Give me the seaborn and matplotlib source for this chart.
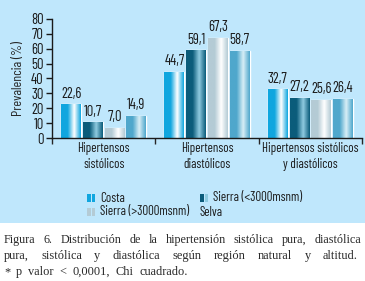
import numpy as np
import pandas as pd
import matplotlib
matplotlib.use("Agg")
import matplotlib.pyplot as plt
import seaborn as sns
from matplotlib.colors import LinearSegmentedColormap
from matplotlib.patches import Rectangle

categories = ["Hipertensos\nsistólicos", "Hipertensos\ndiastólicos", "Hipertensos sistólicos\ny diastólicos"]
regions = ["Costa", "Sierra (<3000msnm)", "Sierra (>3000msnm)", "Selva"]
costa = [22.6, 44.7, 32.7]
sierra_baja = [10.7, 59.1, 27.2]
sierra_alta = [7.0, 67.3, 25.6]
selva = [14.9, 58.7, 26.4]
value_labels = {
    "Costa": ["22,6", "44,7", "32,7"],
    "Sierra (<3000msnm)": ["10,7", "59,1", "27,2"],
    "Sierra (>3000msnm)": ["7,0", "67,3", "25,6"],
    "Selva": ["14,9", "58,7", "26,4"],
}
yticks = [0, 10, 20, 30, 40, 50, 60, 70, 80]
caption = ["Figura 6. Distribución de la hipertensión sistólica pura, diastólica",
           "pura, sistólica y diastólica según región natural y altitud.",
           "* p valor < 0,0001, Chi cuadrado."]

df = pd.DataFrame({
    "cat": categories * 4,
    "region": sum([[r] * 3 for r in regions], []),
    "val": costa + sierra_baja + sierra_alta + selva,
})

edge_cols = {"Costa": ("#10a6df", "#ffffff"),
             "Sierra (<3000msnm)": ("#0b5c7b", "#8fcbe0"),
             "Sierra (>3000msnm)": ("#b4cbd5", "#ffffff"),
             "Selva": ("#4fa7cc", "#d8eef6")}
palette = {r: edge_cols[r][0] for r in regions}

NARROW = ["Barlow Condensed", "DejaVu Sans"]
SERIF = ["Liberation Serif", "DejaVu Serif"]

sns.set_theme(style="ticks")
plt.rcParams["font.family"] = NARROW

W, H = 365, 281
fig = plt.figure(figsize=(W / 100, H / 100), dpi=100)
fig.patches.append(Rectangle((0, 1 - 223 / H), 1, 223 / H, transform=fig.transFigure,
                             facecolor="#bfe7fc", edgecolor="none", zorder=-10))
ax = fig.add_axes([52 / W, 1 - 138 / H, (362 - 52) / W, (138 - 19) / H])
ax.set_facecolor("none")

sns.barplot(data=df, x="cat", y="val", hue="region", hue_order=regions, order=categories,
            palette=palette, width=0.84, gap=0.08, ax=ax, legend=False, saturation=1)

ax.set_xlim(-0.5, 2.5)
ax.set_ylim(0, 80)
ax.set_yticks(yticks)
ax.set_yticklabels([str(t) for t in yticks], fontsize=10.5)
ax.set_ylabel("Prevalencia (%)", fontsize=10, labelpad=4)
ax.set_xlabel("")
ax.tick_params(axis="x", length=0, pad=3, labelsize=9.3)
ax.tick_params(axis="y", length=4, width=1, pad=2, direction="out")
ax.set_xticks([-0.5, 0.5, 1.5, 2.5], minor=True)
ax.tick_params(axis="x", which="minor", length=4, width=1, direction="out")
for lab in ax.get_xticklabels():
    lab.set_linespacing(1.25)
for s in ["top", "right"]:
    ax.spines[s].set_visible(False)
for s in ["left", "bottom"]:
    ax.spines[s].set_color("#1a1a1a")
    ax.spines[s].set_linewidth(1)
ax.tick_params(colors="#1a1a1a")

# gradient fills and labels
for cont, r in zip(ax.containers, regions):
    c0, c1 = edge_cols[r]
    cmap = LinearSegmentedColormap.from_list(r, [c0, c0, c1, c0])
    grad = np.linspace(0, 1, 64).reshape(1, -1)
    for bar, lab in zip(cont, value_labels[r]):
        x, w, h = bar.get_x(), bar.get_width(), bar.get_height()
        im = ax.imshow(grad, cmap=cmap, extent=[x, x + w, 0, h], aspect="auto",
                       interpolation="bilinear", zorder=bar.get_zorder() + 0.1)
        im.set_clip_path(bar)
        ax.text(x + w / 2, h + 2.3, lab, ha="center", va="bottom", fontsize=10.5, color="#1a1a1a")
ax.set_xlim(-0.5, 2.5)
ax.set_ylim(0, 80)

# legend (manual)
leg = [("Costa", 87, 198, True), ("Sierra (<3000msnm)", 200, 198, True),
       ("Sierra (>3000msnm)", 87, 212, True), ("Selva", 200, 212, False)]
for name, px, py, show in leg:
    c0, c1 = edge_cols[name]
    if show:
        fig.patches.append(Rectangle((px / W, 1 - (py + 4) / H), 4 / W, 8 / H,
                                     transform=fig.transFigure, facecolor=c0, edgecolor="none"))
        fig.patches.append(Rectangle(((px + 5) / W, 1 - (py + 4) / H), 3 / W, 8 / H,
                                     transform=fig.transFigure, facecolor=c1 if c1 != "#ffffff" else c0,
                                     edgecolor="none"))
        tx = px + 13
    else:
        tx = px
    fig.text(tx / W, 1 - py / H, name, fontsize=9.3, va="center", ha="left", color="#1a1a1a")

# caption, justified word by word
renderer = fig.canvas.get_renderer()
ys = [240, 256, 272]
ends = [361, 358, 188]
sizes = [8.7, 8.9, 8.9]
for line, y, xend, fs in zip(caption, ys, ends, sizes):
    words = line.split(" ")
    objs = [fig.text(0, 1 - y / H, wd, fontsize=fs, family=SERIF, va="center", ha="left",
                     color="#2a2a2a") for wd in words]
    widths = [o.get_window_extent(renderer).width for o in objs]
    gap = (xend - 4 - sum(widths)) / (len(words) - 1)
    xx = 4
    for o, wdt in zip(objs, widths):
        o.set_x(xx / W)
        xx += wdt + gap

fig.savefig("out.png", dpi=100)
